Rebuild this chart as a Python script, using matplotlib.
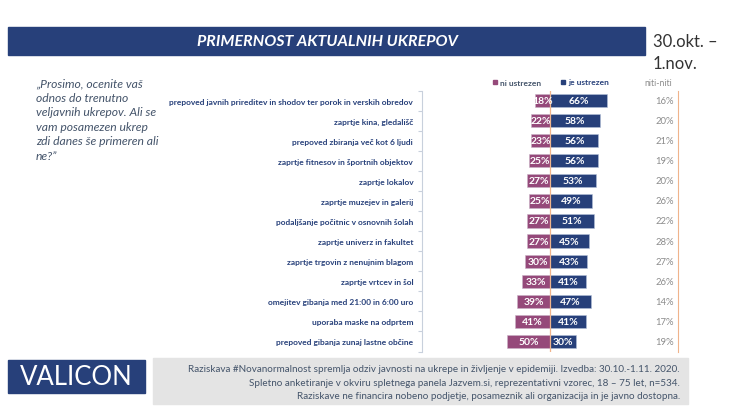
import matplotlib
matplotlib.use('Agg')
import matplotlib.pyplot as plt
from matplotlib.patches import Rectangle

plt.rcParams['font.family'] = ['Lato', 'DejaVu Sans']

# Data
categories = [
    'prepoved javnih prireditev in shodov ter porok in verskih obredov',
    'zaprtje kina, gledališč',
    'prepoved zbiranja več kot 6 ljudi',
    'zaprtje fitnesov in športnih objektov',
    'zaprtje lokalov',
    'zaprtje muzejev in galerij',
    'podaljšanje počitnic v osnovnih šolah',
    'zaprtje univerz in fakultet',
    'zaprtje trgovin z nenujnim blagom',
    'zaprtje vrtcev in šol',
    'omejitev gibanja med 21:00 in 6:00 uro',
    'uporaba maske na odprtem',
    'prepoved gibanja zunaj lastne občine',
]
ni_ustrezen = [18, 22, 23, 25, 27, 25, 27, 27, 30, 33, 39, 41, 50]
je_ustrezen = [66, 58, 56, 56, 53, 49, 51, 45, 43, 41, 47, 41, 30]
niti_niti = [16, 20, 21, 19, 20, 26, 22, 28, 27, 26, 14, 17, 19]

question = ['„Prosimo, ocenite vaš', 'odnos do trenutno', 'veljavnih ukrepov. Ali se',
            'vam posamezen ukrep', 'zdi danes še primeren ali', 'ne?”']
footer = ['Raziskava #Novanormalnost spremlja odziv javnosti na ukrepe in življenje v epidemiji. Izvedba: 30.10.-1.11. 2020.',
          'Spletno anketiranje v okviru spletnega panela Jazvem.si, reprezentativni vzorec, 18 – 75 let, n=534.',
          'Raziskave ne financira nobeno podjetje, posameznik ali organizacija in je javno dostopna.']

NAVY = '#27407A'
PLUM = '#95497A'
ORANGE = '#F0B48C'
W, H = 736, 414

fig = plt.figure(figsize=(7.36, 4.14), dpi=100)

# background layer in pixel coordinates
bg = fig.add_axes([0, 0, 1, 1])
bg.set_xlim(0, W)
bg.set_ylim(H, 0)
bg.axis('off')

bg.add_patch(Rectangle((8, 27.5), 637, 28.5, color=NAVY))
bg.text(327, 42, 'PRIMERNOST AKTUALNIH UKREPOV', color='white', fontsize=11.5,
        fontweight='bold', style='italic', ha='center', va='center')
bg.text(653, 42, '30.okt. –', color='#333333', fontsize=12, va='center')
bg.text(653, 64, '1.nov.', color='#333333', fontsize=12, va='center')

for i, line in enumerate(question):
    bg.text(36, 83.5 + i * 14.6, line, color='#44546A', fontsize=8.7, style='italic', va='center')

bg.add_patch(Rectangle((492.5, 80.5), 4, 4, color=PLUM))
bg.text(499.5, 83, 'ni ustrezen', color='#44546A', fontsize=6, fontweight='bold', va='center')
bg.add_patch(Rectangle((561, 80.5), 4, 4, color=NAVY))
bg.text(568, 83, 'je ustrezen', color='#27407A', fontsize=6, fontweight='bold', va='center')
bg.text(672, 83, 'niti-niti', color='#8C8C8C', fontsize=6.2, ha='right', va='center')

bg.add_patch(Rectangle((8, 361), 137, 33, color=NAVY))
bg.text(76.5, 377.5, 'VALICON', color='white', fontsize=18.5, ha='center', va='center')
bg.add_patch(Rectangle((153, 359), 535, 46, color='#E4E4E4'))
for i, line in enumerate(footer):
    bg.text(680, 370 + i * 13.4, line, color='#44546A', fontsize=7.1, ha='right', va='center')

# chart
ax = fig.add_axes([421.5 / W, 1 - 352.5 / H, 256 / W, 261 / H])
ax.patch.set_alpha(0)
y = list(range(len(categories)))
ax.barh(y, [-v for v in ni_ustrezen], height=0.66, color=PLUM, edgecolor='#C9B3C6', linewidth=0.4)
ax.barh(y, je_ustrezen, height=0.66, color=NAVY, edgecolor='#B4C0D8', linewidth=0.4)
ax.set_xlim(-150, 148)
ax.set_ylim(len(categories) - 0.5, -0.5)
ax.axvline(0, color=ORANGE, linewidth=0.9, zorder=3)

for i in y:
    ax.text(-ni_ustrezen[i] / 2, i, f'{ni_ustrezen[i]}%', color='white', fontsize=7.5,
            fontweight='bold', ha='center', va='center', zorder=4)
    ax.text(je_ustrezen[i] / 2, i, f'{je_ustrezen[i]}%', color='white', fontsize=7.5,
            fontweight='bold', ha='center', va='center', zorder=4)
    ax.text(144, i, f'{niti_niti[i]}%', color='#8C8C8C', fontsize=6.8, ha='right', va='center')

for side in ['top', 'bottom']:
    ax.spines[side].set_visible(False)
ax.spines['left'].set_color('#C8D0DC')
ax.spines['right'].set_color(ORANGE)
ax.set_xticks([])
ax.set_yticks(y)
ax.set_yticklabels(categories, fontsize=6.05, fontweight='bold', color='#27407A')
ax.tick_params(axis='y', which='major', length=0, pad=6)
ax.set_yticks([v - 0.5 for v in range(len(categories) + 1)], minor=True)
ax.tick_params(axis='y', which='minor', length=3, color='#C8D0DC', width=0.8)

plt.savefig('out.png', dpi=100)
